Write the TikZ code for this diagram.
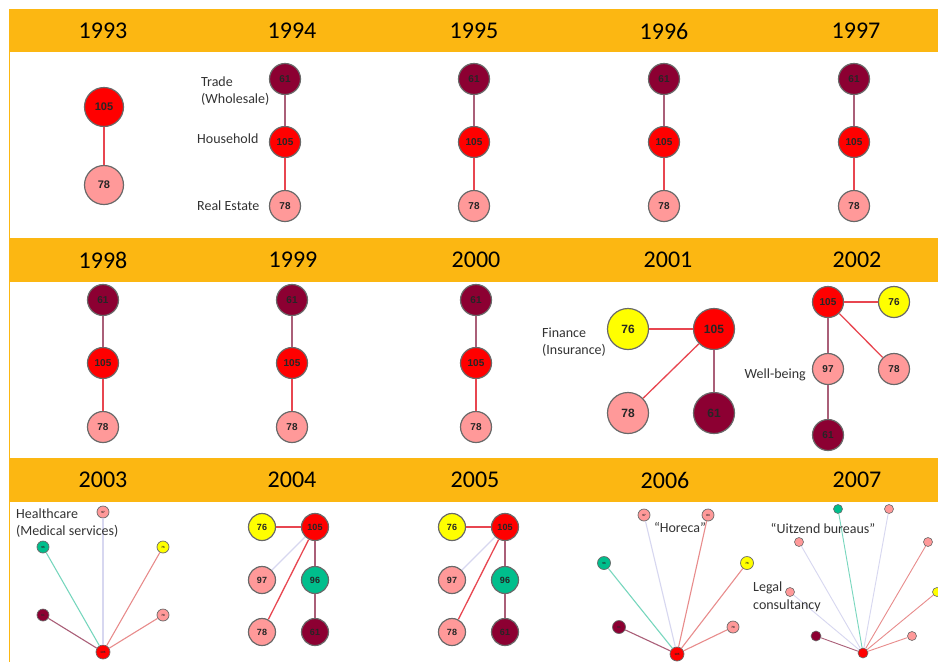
\documentclass[tikz,border=0pt]{standalone}
\usepackage{fontspec}
\setmainfont{Carlito}
\newfontfamily\numfont{Liberation Sans}
\definecolor{band}{RGB}{252,183,18}
\definecolor{cmaroon}{RGB}{140,0,50}
\definecolor{cred}{RGB}{255,0,0}
\definecolor{cpink}{RGB}{255,153,153}
\definecolor{cyellow}{RGB}{255,255,0}
\definecolor{cteal}{RGB}{0,190,140}
\definecolor{ndborder}{RGB}{105,105,105}
\definecolor{ered}{RGB}{232,70,80}
\definecolor{emauve}{RGB}{170,95,120}
\definecolor{elav}{RGB}{215,215,240}
\definecolor{eteal}{RGB}{120,215,190}
\definecolor{esalmon}{RGB}{232,140,140}
\begin{document}
\begin{tikzpicture}[x=1pt,y=-1pt,
  nd/.style={circle,draw=ndborder,line width=1.2pt,inner sep=0pt,minimum size=31pt,
    font=\numfont\bfseries\fontsize{10}{10}\selectfont,text=black!85},
  big/.style={nd,minimum size=39pt,font=\numfont\bfseries\fontsize{11}{11}\selectfont},
  huge/.style={nd,minimum size=41pt,font=\numfont\bfseries\fontsize{12}{12}\selectfont},
  mid/.style={nd,minimum size=27pt,font=\numfont\bfseries\fontsize{9}{9}\selectfont},
  sm/.style={nd,minimum size=12pt,line width=0.7pt,font=\numfont\bfseries\fontsize{3}{3}\selectfont},
  xs/.style={nd,minimum size=9pt,line width=0.6pt,font=\numfont\bfseries\fontsize{2}{2}\selectfont},
  fm/.style={fill=cmaroon},
  fr/.style={fill=cred},
  fp/.style={fill=cpink},
  fy/.style={fill=cyellow},
  ft/.style={fill=cteal},
  er/.style={draw=ered,line width=1.3pt},
  em/.style={draw=emauve,line width=1.3pt},
  el/.style={draw=elav,line width=1.1pt},
  et/.style={draw=eteal,line width=1.1pt},
  es/.style={draw=esalmon,line width=1.1pt},
  yr/.style={font=\fontsize{24}{24}\selectfont,text=black},
  lbl/.style={font=\fontsize{14}{17.5}\selectfont,text=black!80,inner sep=0pt,align=left}
]
\useasboundingbox (0,0) rectangle (938,662);
\fill[white] (0,0) rectangle (938,662);
% bands
\fill[band] (9,9) rectangle (938,52);
\fill[band] (9,238) rectangle (938,282);
\fill[band] (9,458) rectangle (938,502);
\draw[band,line width=1.2pt] (9.6,9) -- (9.6,662);
% years
\node[yr] (y1993) at (103,31) {1993};
\node[yr] (y1994) at (292,31) {1994};
\node[yr] (y1995) at (474,31) {1995};
\node[yr] (y1996) at (664,31) {1996};
\node[yr] (y1997) at (856,31) {1997};
\node[yr] (y1998) at (103,260) {1998};
\node[yr] (y1999) at (293,260) {1999};
\node[yr] (y2000) at (476,260) {2000};
\node[yr] (y2001) at (668,260) {2001};
\node[yr] (y2002) at (857,260) {2002};
\node[yr] (y2003) at (103,480) {2003};
\node[yr] (y2004) at (292,480) {2004};
\node[yr] (y2005) at (475,480) {2005};
\node[yr] (y2006) at (665,480) {2006};
\node[yr] (y2007) at (857,480) {2007};

% 1993
\node[big,fr] (a105) at (104,107) {105};
\node[big,fp] (a78) at (104,185) {78};
\draw[er] (a105) -- (a78);

% 1994-1997, 1998-2000 (three-node chains)
\foreach \i/\x/\yA in {b/285/79, c/474/79, d/664/79, e/854/79, f/103/300, g/292/300, h/476/300}{
  \node[nd,fm] (\i61) at (\x,\yA) {61};
  \node[nd,fr] (\i105) at (\x,\yA+63) {105};
  \node[nd,fp] (\i78) at (\x,\yA+127) {78};
  \draw[em] (\i61) -- (\i105);
  \draw[er] (\i105) -- (\i78);
}
\node[lbl,anchor=west] (lt) at (201,91) {Trade\\(Wholesale)};
\node[lbl,anchor=west] (lh) at (197,139) {Household};
\node[lbl,anchor=west] (lr) at (197,206) {Real Estate};

% 2001
\node[huge,fy] (i76) at (628,329) {76};
\node[huge,fr] (i105) at (714,329) {105};
\node[huge,fp] (i78) at (628,413) {78};
\node[huge,fm] (i61) at (714,413) {61};
\draw[er] (i76) -- (i105);
\draw[er] (i105) -- (i78);
\draw[em] (i105) -- (i61);
\node[lbl,anchor=west] (lf) at (542,342) {Finance\\(Insurance)};

% 2002
\node[nd,fr] (j105) at (828,302) {105};
\node[nd,fy] (j76) at (894,302) {76};
\node[nd,fp] (j97) at (828,369) {97};
\node[nd,fp] (j78) at (894,369) {78};
\node[nd,fm] (j61) at (828,435) {61};
\draw[er] (j105) -- (j76);
\draw[er] (j105) -- (j78);
\draw[em] (j105) -- (j97);
\draw[em] (j97) -- (j61);
\node[lbl,anchor=east] (lw) at (806,375) {Well-being};

% 2003
\node[sm,fr,minimum size=14pt] (k105) at (103,652) {105};
\node[sm,fp] (k97) at (103,512) {97};
\node[sm,ft] (k96) at (43,547) {96};
\node[sm,fy] (k76) at (163,547) {76};
\node[sm,fm] (k61) at (43,615) {61};
\node[sm,fp] (k78) at (163,615) {78};
\draw[el] (k97) -- (k105);
\draw[et] (k96) -- (k105);
\draw[es] (k76) -- (k105);
\draw[em,line width=1.1pt] (k61) -- (k105);
\draw[es] (k78) -- (k105);
\node[lbl,anchor=west] (lhc) at (16,523) {Healthcare\\(Medical services)};

% 2004, 2005
\foreach \i/\x in {m/262, n/452}{
  \node[mid,fy] (\i76) at (\x,527) {76};
  \node[mid,fr] (\i105) at (\x+53,527) {105};
  \node[mid,fp] (\i97) at (\x,580) {97};
  \node[mid,ft] (\i96) at (\x+53,580) {96};
  \node[mid,fp] (\i78) at (\x,632) {78};
  \node[mid,fm] (\i61) at (\x+53,632) {61};
  \draw[er] (\i76) -- (\i105);
  \draw[el] (\i105) -- (\i97);
  \draw[er] (\i105) -- (\i78);
  \draw[em] (\i105) -- (\i96);
  \draw[em] (\i96) -- (\i61);
}

% 2006
\node[sm,fr,minimum size=14pt] (p105) at (677,654) {105};
\node[sm,fp] (p97) at (644,515) {97};
\node[sm,fp] (p83) at (708,515) {83};
\node[sm,ft,minimum size=13pt] (p96) at (604,563) {96};
\node[sm,fy,minimum size=13pt] (p76) at (747,563) {76};
\node[sm,fm,minimum size=13pt] (p61) at (619,627) {61};
\node[sm,fp] (p78) at (733,627) {78};
\draw[el] (p97) -- (p105);
\draw[es] (p83) -- (p105);
\draw[et] (p96) -- (p105);
\draw[es] (p76) -- (p105);
\draw[em,line width=1.1pt] (p61) -- (p105);
\draw[es] (p78) -- (p105);
\node[lbl] (lho) at (680,527) {“Horeca”};

% 2007
\node[xs,fr,minimum size=10pt] (q105) at (863,653) {};
\node[xs,ft] (q1) at (838,509) {};
\node[xs,fp] (q2) at (889,509) {};
\node[xs,fp] (q3) at (799,542) {};
\node[xs,fp] (q4) at (928,542) {};
\node[xs,fp] (q5) at (790,592) {};
\node[xs,fy] (q6) at (937,592) {};
\node[xs,fm,minimum size=10pt] (q7) at (816,636) {};
\node[xs,fp] (q8) at (912,636) {};
\draw[et,line width=0.9pt] (q1) -- (q105);
\draw[el,line width=0.9pt] (q2) -- (q105);
\draw[el,line width=0.9pt] (q3) -- (q105);
\draw[es,line width=0.9pt] (q4) -- (q105);
\draw[el,line width=0.9pt] (q5) -- (q105);
\draw[es,line width=0.9pt] (q6) -- (q105);
\draw[em,line width=0.9pt] (q7) -- (q105);
\draw[es,line width=0.9pt] (q8) -- (q105);
\node[lbl] (lub) at (823,528) {“Uitzend bureaus”};
\node[lbl,anchor=west] (llc) at (753,597) {Legal\\consultancy};
\end{tikzpicture}
\end{document}
